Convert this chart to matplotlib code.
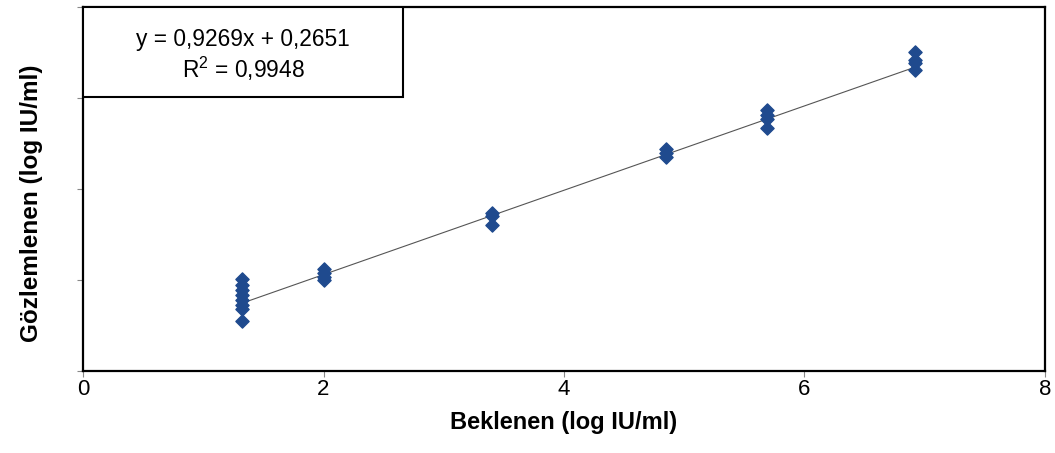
import numpy as np
import matplotlib
matplotlib.use("Agg")
import matplotlib.pyplot as plt
from matplotlib.patches import Rectangle

plt.rcParams['font.family'] = ['Liberation Sans', 'DejaVu Sans']
plt.rcParams['mathtext.fontset'] = 'custom'
plt.rcParams['mathtext.rm'] = 'Liberation Sans'
plt.rcParams['mathtext.it'] = 'Liberation Sans'

# expected (x) and observed (y) values, log IU/ml
beklenen = [1.32, 1.32, 1.32, 1.32, 1.32, 1.32, 1.32, 1.32,
            2.0, 2.0, 2.0, 2.0,
            3.40, 3.40, 3.40,
            4.85, 4.85, 4.85,
            5.69, 5.69, 5.69, 5.69,
            6.92, 6.92, 6.92, 6.92]
gozlemlenen = [2.02, 1.89, 1.78, 1.67, 1.56, 1.45, 1.36, 1.10,
               2.24, 2.15, 2.07, 2.00,
               3.47, 3.41, 3.21,
               4.88, 4.79, 4.70,
               5.74, 5.63, 5.54, 5.34,
               7.01, 6.84, 6.77, 6.62]
slope = 0.9269
intercept = 0.2651
r2 = 0.9948

fig = plt.figure(figsize=(10.55, 4.53), dpi=100)
ax = fig.add_axes([0.0787, 0.181, 0.9118, 0.8035])

xs = np.array([min(beklenen), max(beklenen)])
ax.plot(xs, slope * xs + intercept, color='#555555', lw=0.8, zorder=2)
ax.scatter(beklenen, gozlemlenen, marker='D', s=45, color='#1f4a8e',
           edgecolors='#1f4a8e', zorder=3)

ax.set_xlim(0, 8)
ax.set_ylim(0, 8)
ax.set_xticks([0, 2, 4, 6, 8])
ax.set_yticks([0, 2, 4, 6, 8])
ax.set_yticklabels([])
ax.tick_params(axis='x', labelsize=16, length=4, color='#888888', pad=2)
ax.tick_params(axis='y', length=4, color='#888888')
for s in ax.spines.values():
    s.set_linewidth(1.6)
    s.set_color('black')

ax.set_xlabel('Beklenen (log IU/ml)', fontsize=17, fontweight='bold', labelpad=8)
ax.set_ylabel('Gözlemlenen (log IU/ml)', fontsize=17.5, fontweight='bold')
ax.yaxis.set_label_coords(-0.042, 0.46)

ax.add_patch(Rectangle((0, 0.753), 0.3326, 0.247, transform=ax.transAxes,
                       facecolor='white', edgecolor='black', lw=1.5, zorder=4))
eq = 'y = {}x + {}'.format(str(slope).replace('.', ','), str(intercept).replace('.', ','))
rr = 'R$^2$ = {}'.format(str(r2).replace('.', ','))
ax.text(0.1663, 0.912, eq, transform=ax.transAxes, ha='center', va='center',
        fontsize=16.4, zorder=5)
ax.text(0.1663, 0.830, rr, transform=ax.transAxes, ha='center', va='center',
        fontsize=16.4, zorder=5)

fig.savefig('out.png', dpi=100)
